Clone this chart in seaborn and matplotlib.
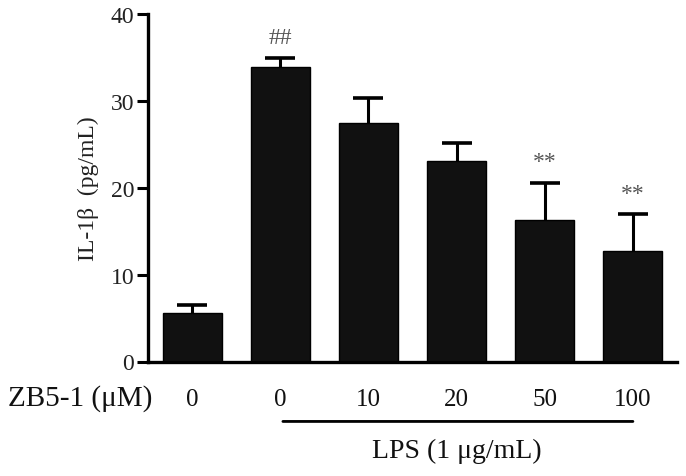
import matplotlib
matplotlib.use("Agg")
import matplotlib.pyplot as plt
import seaborn as sns
import pandas as pd
import numpy as np

groups = ["Control", "LPS", "LPS+10", "LPS+20", "LPS+50", "LPS+100"]
dose_labels = ["0", "0", "10", "20", "50", "100"]
means = [5.6, 33.9, 27.45, 23.1, 16.3, 12.75]
sems = [0.95, 1.0, 2.9, 2.0, 4.3, 4.2]
marks = ["", "##", "", "", "**", "**"]

sns.set_theme(style="ticks")
plt.rcParams["font.family"] = ["Liberation Serif", "DejaVu Serif"]

fig = plt.figure(figsize=(6.86, 4.77), dpi=100)
ax = fig.add_axes([148/686, 1-362.5/477, (677-148)/686, (362.5-15)/477])

df = pd.DataFrame({"group": groups, "value": means})
sns.barplot(data=df, x="group", y="value", order=groups, color="#111111",
            edgecolor="black", linewidth=1.0, width=0.67, saturation=1,
            errorbar=None, ax=ax)

xs = np.arange(len(groups))
eb = ax.errorbar(xs, means, yerr=[np.zeros(len(sems)), sems], fmt="none",
                 ecolor="black", elinewidth=2.2, capsize=11, capthick=2.6)
eb[1][0].set_visible(False)

for x, m, s, t in zip(xs, means, sems, marks):
    if t:
        ax.text(x, m + s + 1.2, t, ha="center", va="bottom", fontsize=17,
                color="#555555")

ax.set_xlim(-0.5, 5.5)
ax.set_ylim(0, 40)
ax.set_yticks([0, 10, 20, 30, 40])
ax.tick_params(axis="y", labelsize=17, width=2.2, length=8, color="black",
               labelcolor="#222222", pad=2)
ax.tick_params(axis="x", length=0, labelsize=18, labelcolor="#111111", pad=19)
ax.set_xticks(xs)
ax.set_xticklabels(dose_labels)
ax.set_xlabel("")
ax.set_ylabel("IL-1β  (pg/mL)", fontsize=17, color="#222222", labelpad=8)
for sp in ["top", "right"]:
    ax.spines[sp].set_visible(False)
for sp in ["left", "bottom"]:
    ax.spines[sp].set_linewidth(2.4)
    ax.spines[sp].set_color("black")

fig.text(8/686, 1-399/477, "ZB5-1 (μM)", fontsize=21, ha="left", va="center",
         color="#111111")
ax.annotate("", xy=(xs[1] + 0.03, -6.9), xytext=(xs[5] - 0.0, -6.9),
            xycoords="data", arrowprops=dict(arrowstyle="-", lw=2.0, color="black",
                                             shrinkA=0, shrinkB=0),
            annotation_clip=False)
ax.text((xs[1] + xs[5]) / 2, -10.2, "LPS (1 μg/mL)", fontsize=20,
        ha="center", va="center", color="#111111", clip_on=False)

fig.savefig("out.png", dpi=100, facecolor="white")
